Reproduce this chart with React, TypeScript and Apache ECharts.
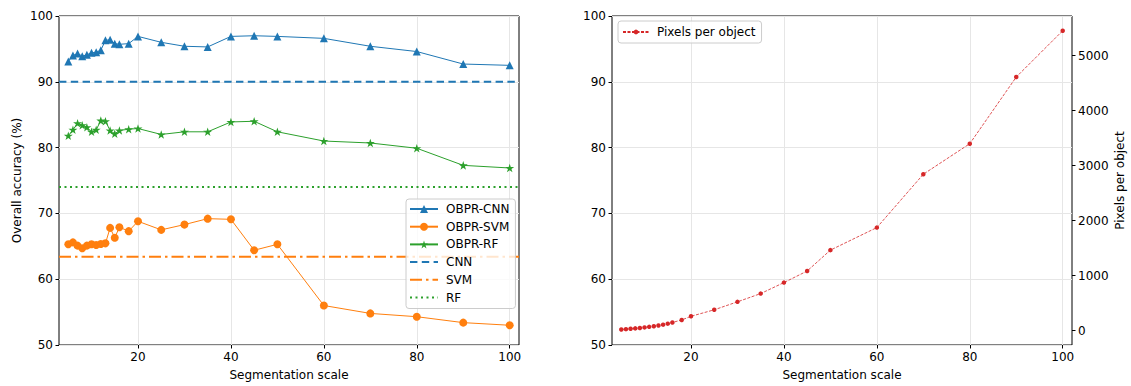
import React, { useEffect, useRef } from "react";
import * as echarts from "echarts";

// ---- data ----
const SCALES = [5, 6, 7, 8, 9, 10, 11, 12, 13, 14, 15, 16, 18, 20, 25, 30, 35, 40, 45, 50, 60, 70, 80, 90, 100];
const OBPR_CNN = [93.1, 94.0, 94.3, 93.9, 94.1, 94.4, 94.5, 94.8, 96.3, 96.4, 95.8, 95.7, 95.8, 96.9, 96.0, 95.4, 95.3, 96.9, 97.0, 96.9, 96.6, 95.4, 94.6, 92.7, 92.5];
const OBPR_SVM = [65.3, 65.6, 65.1, 64.7, 65.1, 65.3, 65.2, 65.35, 65.45, 67.8, 66.3, 67.9, 67.3, 68.8, 67.5, 68.3, 69.2, 69.1, 64.4, 65.3, 56.0, 54.8, 54.3, 53.4, 53.0];
const OBPR_RF = [81.8, 82.7, 83.7, 83.4, 83.1, 82.4, 82.7, 84.1, 84.0, 82.6, 82.1, 82.6, 82.8, 82.9, 82.0, 82.4, 82.4, 83.9, 84.0, 82.4, 81.0, 80.7, 79.9, 77.3, 76.9];
const CNN_BASELINE = 90.0;
const SVM_BASELINE = 63.4;
const RF_BASELINE = 74.0;
const PIXELS_PER_OBJECT = [22, 28, 35, 42, 50, 60, 70, 82, 95, 110, 128, 150, 195, 262, 380, 525, 675, 875, 1085, 1465, 1875, 2845, 3400, 4612, 5455];

const X_TICKS = [20, 40, 60, 80, 100];
const PIXEL_TICKS = [0, 1000, 2000, 3000, 4000, 5000];
const X_RANGE = [3, 102];
const ACC_RANGE = [50, 100];
const PIXEL_RANGE = [-260, 5722];

const FONT = "DejaVu Sans";
const C0 = "#1f77b4";
const C1 = "#ff7f0e";
const C2 = "#2ca02c";
const C3 = "#d62728";
const GRID_COLOR = "#e6e6e6";

const STAR =
  "path://M0,-1 L0.2245,-0.309 L0.951,-0.309 L0.363,0.118 L0.588,0.809 L0,0.382 L-0.588,0.809 L-0.363,0.118 L-0.951,-0.309 L-0.2245,-0.309 Z";

const pts = (ys: number[]) => SCALES.map((x, i) => [x, ys[i]]);
const hline = (y: number) => [
  [X_RANGE[0], y],
  [X_RANGE[1], y],
];

const txt = { fontFamily: FONT, fontSize: 12, color: "#000" };

const xAxis = (gridIndex: number) => ({
  type: "value",
  gridIndex,
  min: X_RANGE[0],
  max: X_RANGE[1],
  name: "Segmentation scale",
  nameLocation: "middle",
  nameGap: 24,
  nameTextStyle: txt,
  axisLine: { show: false, onZero: false },
  axisTick: { show: true, inside: false, length: 3.5, lineStyle: { color: "#000", width: 1 }, customValues: X_TICKS },
  axisLabel: { ...txt, margin: 6, customValues: X_TICKS },
  splitLine: { show: true, lineStyle: { color: GRID_COLOR, width: 1 } },
});

const accAxis = (gridIndex: number, name: string) => ({
  type: "value",
  gridIndex,
  position: "left",
  min: ACC_RANGE[0],
  max: ACC_RANGE[1],
  interval: 10,
  name,
  nameLocation: "middle",
  nameGap: 36,
  nameTextStyle: txt,
  axisLine: { show: false, onZero: false },
  axisTick: { show: true, inside: false, length: 3.5, lineStyle: { color: "#000", width: 1 } },
  axisLabel: { ...txt, margin: 6 },
  splitLine: { show: true, lineStyle: { color: GRID_COLOR, width: 1 } },
});

const baseline = (name: string, y: number, color: string, dash: number[]) => ({
  name,
  type: "line",
  xAxisIndex: 0,
  yAxisIndex: 0,
  data: hline(y),
  symbol: "none",
  lineStyle: { color, width: 2, type: dash, cap: "butt" },
  itemStyle: { color, opacity: 0 },
  z: 2,
});

const option: any = {
  animation: false,
  backgroundColor: "#fff",
  grid: [
    { left: 59, top: 16, width: 460, height: 329, show: true, borderColor: "#000", borderWidth: 1, backgroundColor: "transparent" },
    { left: 612, top: 16, width: 460, height: 329, show: true, borderColor: "#000", borderWidth: 1, backgroundColor: "transparent" },
  ],
  xAxis: [xAxis(0), xAxis(1)],
  yAxis: [
    accAxis(0, "Overall accuracy (%)"),
    accAxis(1, ""),
    {
      type: "value",
      gridIndex: 1,
      position: "right",
      min: PIXEL_RANGE[0],
      max: PIXEL_RANGE[1],
      name: "Pixels per object",
      nameLocation: "middle",
      nameGap: 42,
      nameTextStyle: txt,
      axisLine: { show: false, onZero: false },
      axisTick: { show: true, inside: false, length: 3.5, lineStyle: { color: "#000", width: 1 }, customValues: PIXEL_TICKS },
      axisLabel: { ...txt, margin: 6, customValues: PIXEL_TICKS, formatter: (v: number) => String(v) },
      splitLine: { show: false },
    },
  ],
  legend: [
    {
      data: ["OBPR-CNN", "OBPR-SVM", "OBPR-RF", "CNN", "SVM", "RF"],
      orient: "vertical",
      left: 406,
      top: 199,
      itemWidth: 28,
      itemHeight: 10,
      itemGap: 5.7,
      padding: [4, 6, 5, 3],
      backgroundColor: "rgba(255,255,255,0.8)",
      borderColor: "#cccccc",
      borderWidth: 1,
      borderRadius: 3,
      textStyle: { ...txt, padding: [0, 0, 0, 3] },
      selectedMode: false,
    },
    {
      data: ["Pixels per object"],
      orient: "vertical",
      left: 618,
      top: 21,
      itemWidth: 26,
      itemHeight: 6,
      padding: [5, 6, 5, 4],
      backgroundColor: "rgba(255,255,255,0.8)",
      borderColor: "#cccccc",
      borderWidth: 1,
      borderRadius: 3,
      textStyle: { ...txt, padding: [0, 0, 0, 3] },
      selectedMode: false,
    },
  ],
  series: [
    {
      name: "OBPR-CNN",
      type: "line",
      xAxisIndex: 0,
      yAxisIndex: 0,
      data: pts(OBPR_CNN),
      symbol: "triangle",
      symbolSize: 8,
      showAllSymbol: true,
      lineStyle: { color: C0, width: 1 },
      itemStyle: { color: C0 },
      z: 3,
    },
    {
      name: "OBPR-SVM",
      type: "line",
      xAxisIndex: 0,
      yAxisIndex: 0,
      data: pts(OBPR_SVM),
      symbol: "circle",
      symbolSize: 8,
      showAllSymbol: true,
      lineStyle: { color: C1, width: 1 },
      itemStyle: { color: C1 },
      z: 3,
    },
    {
      name: "OBPR-RF",
      type: "line",
      xAxisIndex: 0,
      yAxisIndex: 0,
      data: pts(OBPR_RF),
      symbol: STAR,
      symbolSize: 9,
      symbolKeepAspect: true,
      showAllSymbol: true,
      lineStyle: { color: C2, width: 1 },
      itemStyle: { color: C2 },
      z: 3,
    },
    baseline("CNN", CNN_BASELINE, C0, [7.4, 4.4]),
    baseline("SVM", SVM_BASELINE, C1, [12, 4, 2.5, 4]),
    baseline("RF", RF_BASELINE, C2, [2, 3.5]),
    {
      name: "Pixels per object",
      type: "line",
      xAxisIndex: 1,
      yAxisIndex: 2,
      data: pts(PIXELS_PER_OBJECT),
      symbol: "circle",
      symbolSize: 4.5,
      showAllSymbol: true,
      lineStyle: { color: C3, width: 0.8, type: [3, 1.5] },
      itemStyle: { color: C3 },
      z: 3,
    },
  ],
};

export default function App() {
  const ref = useRef<HTMLDivElement>(null);
  useEffect(() => {
    const chart = echarts.init(ref.current!, null, { renderer: "svg" });
    chart.setOption(option);
    return () => chart.dispose();
  }, []);
  return (
    <div
      ref={ref}
      style={{ position: "fixed", left: 0, top: 0, width: 1131, height: 386, background: "#fff" }}
    />
  );
}
